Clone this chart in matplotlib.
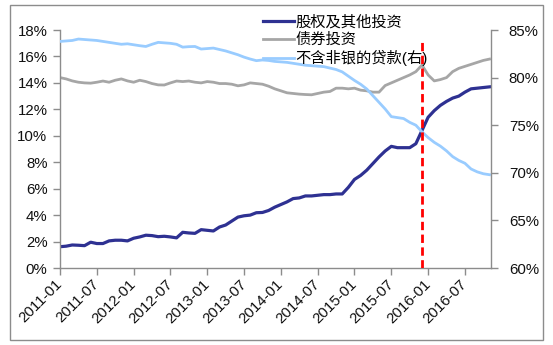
import numpy as np
import pandas as pd
import matplotlib.pyplot as plt
from matplotlib.patches import Rectangle

plt.rcParams['font.family'] = ['Liberation Sans', 'Noto Sans CJK SC']

# monthly data, 2011-01 .. 2016-11
months = pd.date_range('2011-01-01', periods=71, freq='MS')

# 股权及其他投资 (%), left axis
equity = [1.61, 1.65, 1.74, 1.72, 1.69, 1.95, 1.85, 1.85, 2.05, 2.10,
          2.10, 2.05, 2.25, 2.35, 2.48, 2.45, 2.37, 2.40, 2.35, 2.28,
          2.70, 2.65, 2.62, 2.90, 2.85, 2.80, 3.10, 3.25, 3.55, 3.85,
          3.95, 4.00, 4.18, 4.20, 4.35, 4.60, 4.80, 5.00, 5.25, 5.30,
          5.45, 5.45, 5.50, 5.55, 5.55, 5.60, 5.60, 6.10, 6.70, 7.00,
          7.40, 7.90, 8.40, 8.85, 9.20, 9.10, 9.10, 9.10, 9.40, 10.40,
          11.40, 11.90, 12.30, 12.60, 12.85, 13.00, 13.30, 13.55, 13.60, 13.65,
          13.70]

# 债券投资 (%), left axis
bond = [14.40, 14.30, 14.15, 14.05, 14.00, 13.98, 14.05, 14.14, 14.05, 14.20,
        14.30, 14.15, 14.05, 14.20, 14.10, 13.95, 13.85, 13.84, 14.00, 14.14,
        14.10, 14.14, 14.05, 14.00, 14.10, 14.05, 13.95, 13.95, 13.90, 13.78,
        13.85, 14.00, 13.95, 13.90, 13.75, 13.55, 13.40, 13.25, 13.20, 13.15,
        13.12, 13.10, 13.20, 13.30, 13.35, 13.60, 13.60, 13.55, 13.60, 13.45,
        13.40, 13.30, 13.30, 13.80, 14.00, 14.20, 14.40, 14.60, 14.85, 15.35,
        14.60, 14.15, 14.25, 14.40, 14.85, 15.10, 15.25, 15.40, 15.55, 15.70,
        15.80]

# 不含非银的贷款 (%), right axis
loan = [83.80, 83.85, 83.90, 84.05, 84.00, 83.95, 83.90, 83.80, 83.70, 83.60,
        83.50, 83.55, 83.45, 83.35, 83.27, 83.50, 83.70, 83.65, 83.60, 83.50,
        83.20, 83.25, 83.27, 83.00, 83.05, 83.10, 82.95, 82.80, 82.60, 82.40,
        82.15, 81.95, 81.78, 81.85, 81.80, 81.70, 81.65, 81.60, 81.50, 81.40,
        81.30, 81.25, 81.20, 81.15, 81.00, 80.85, 80.60, 80.15, 79.70, 79.30,
        78.80, 78.10, 77.40, 76.70, 75.90, 75.80, 75.70, 75.30, 75.00, 74.30,
        73.70, 73.20, 72.80, 72.30, 71.70, 71.30, 71.00, 70.40, 70.10, 69.90,
        69.80]

marker_month = '2015-12'

labels = ['股权及其他投资', '债券投资', '不含非银的贷款(右)']
colors = ['#2E3192', '#A6A6A6', '#99CCFF']
spine_gray = '#8C8C8C'

fig = plt.figure(figsize=(5.53, 3.45), dpi=100)
ax = fig.add_axes([60 / 553, 1 - 268 / 345, 430.7 / 553, 238 / 345])
ax2 = ax.twinx()

x = np.arange(len(months))
l1, = ax.plot(x, equity, color=colors[0], lw=2.3, label=labels[0])
l2, = ax.plot(x, bond, color=colors[1], lw=2.0, label=labels[1])
l3, = ax2.plot(x, loan, color=colors[2], lw=2.0, label=labels[2])

# vertical marker at Dec 2015
mx = list(months.strftime('%Y-%m')).index(marker_month)
ax2.axvline(mx, ymin=0, ymax=0.958, color='#FF0000', lw=2.0,
            ls=(0, (3, 1.6)), zorder=5)

ax.set_xlim(0, 70.2)
ax.set_ylim(0, 18)
ax2.set_ylim(60, 85)
ax.set_yticks(np.arange(0, 19, 2))
ax2.set_yticks(np.arange(60, 86, 5))
ax.set_yticklabels(['%d%%' % v for v in np.arange(0, 19, 2)])
ax2.set_yticklabels(['%d%%' % v for v in np.arange(60, 86, 5)])

ax.set_xticks(x[::6])
ax.set_xticklabels(months[::6].strftime('%Y-%m'), rotation=45,
                   ha='right', va='center', rotation_mode='anchor')

for a in (ax, ax2):
    a.spines['top'].set_visible(False)
    for s in a.spines.values():
        s.set_color(spine_gray)
        s.set_linewidth(1.0)
    a.tick_params(direction='out', length=5, width=1, color=spine_gray,
                  labelsize=10.8, labelcolor='#111111')
ax2.spines['left'].set_visible(False)
ax2.spines['bottom'].set_visible(False)
ax.spines['right'].set_visible(False)
ax.tick_params(axis='y', pad=4)
ax.tick_params(axis='x', pad=5)
ax2.tick_params(axis='y', pad=8)

fig.legend(handles=[l1, l2, l3], loc='upper left',
           bbox_to_anchor=(263 / 553, 1 - 15 / 345), frameon=False,
           fontsize=11, handlelength=2.0, handletextpad=0.1,
           labelspacing=0.22, borderpad=0, borderaxespad=0)

# thin frame around the whole figure
fig.patches.append(Rectangle((10 / 553, 5 / 345), 533 / 553, 335 / 345,
                             transform=fig.transFigure, fill=False,
                             edgecolor=spine_gray, lw=1.0))

fig.savefig('out.png', dpi=100)
